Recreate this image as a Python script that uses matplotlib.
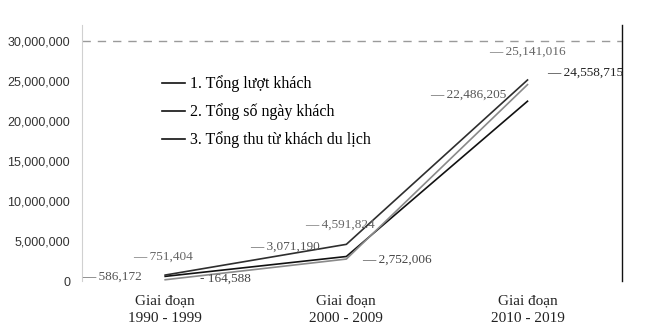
import matplotlib.pyplot as plt
from matplotlib.ticker import FuncFormatter

# --- data ---
periods = ['Giai đoạn\n1990 - 1999', 'Giai đoạn\n2000 - 2009', 'Giai đoạn\n2010 - 2019']
series_names = ['1. Tổng lượt khách', '2. Tổng số ngày khách', '3. Tổng thu từ khách du lịch']
tong_luot_khach = [586172, 3071190, 22486205]
tong_so_ngay_khach = [751404, 4591824, 25141016]
tong_thu = [164588, 2752006, 24558715]
y_ticks = [0, 5000000, 10000000, 15000000, 20000000, 25000000, 30000000]

series = [tong_luot_khach, tong_so_ngay_khach, tong_thu]
line_colors = ['#111111', '#2e2e2e', '#8a8a8a']
label_colors = ['#555555', '#666666', '#444444']

# label offsets in points (dx, dy) for each series / period
label_offsets = [
    [(-60, -0.5), (-69.5, 6.8), (-70.5, 4.4)],
    [(-23, 13), (-30, 13.9), (-27.4, 20)],
    [(25, 0.5), (11, -0.7), (14.4, 8.3)],
]
label_prefix = ['\u2014 ', '\u2014 ', '- ']

fig = plt.figure(figsize=(6.6, 3.35), dpi=100)
ax = fig.add_axes([0.124, 0.161, 0.818, 0.764])

x = list(range(len(periods)))
for k, vals in enumerate(series):
    ax.plot(x, vals, color=line_colors[k], lw=1.2, label=series_names[k])
    for i, v in enumerate(vals):
        prefix = label_prefix[k] if not (k == 2 and i > 0) else '\u2014 '
        ax.annotate(prefix + f'{v:,}', xy=(i, v), xytext=label_offsets[k][i],
                    textcoords='offset points', ha='left', va='center',
                    fontsize=9.5, family='Liberation Serif',
                    color=label_colors[k] if not (k == 2 and i == 2) else '#222222')

ax.set_xlim(-0.46, 2.52)
ax.set_ylim(0, 32000000)
ax.set_xticks(x)
ax.set_xticklabels(periods, family='Liberation Serif', fontsize=11, color='#222222',
                   linespacing=1.45)
ax.set_yticks(y_ticks)
ax.yaxis.set_major_formatter(FuncFormatter(lambda v, p: f'{int(v):,}'))
for t in ax.get_yticklabels():
    t.set_family('Liberation Sans')
    t.set_fontsize(9)
    t.set_color('#333333')
ax.tick_params(axis='both', length=0)
ax.tick_params(axis='x', pad=9.5)
ax.tick_params(axis='y', pad=8.5)

# dashed line at top value
ax.axhline(30000000, color='#9a9a9a', lw=1, ls=(0, (6, 5)))

ax.spines['top'].set_visible(False)
ax.spines['bottom'].set_visible(False)
ax.spines['left'].set_color('#d0d0d0')
ax.spines['left'].set_linewidth(0.8)
ax.spines['right'].set_color('#111111')
ax.spines['right'].set_linewidth(1.0)

leg = ax.legend(loc='upper left', bbox_to_anchor=(0.121, 0.86), frameon=False,
                handlelength=1.5, handletextpad=0.3, labelspacing=0.7,
                prop={'family': 'Liberation Serif', 'size': 11.5})
for h in leg.get_lines():
    h.set_color('#111111')
    h.set_linewidth(1.2)

fig.savefig('out.png', dpi=100)
